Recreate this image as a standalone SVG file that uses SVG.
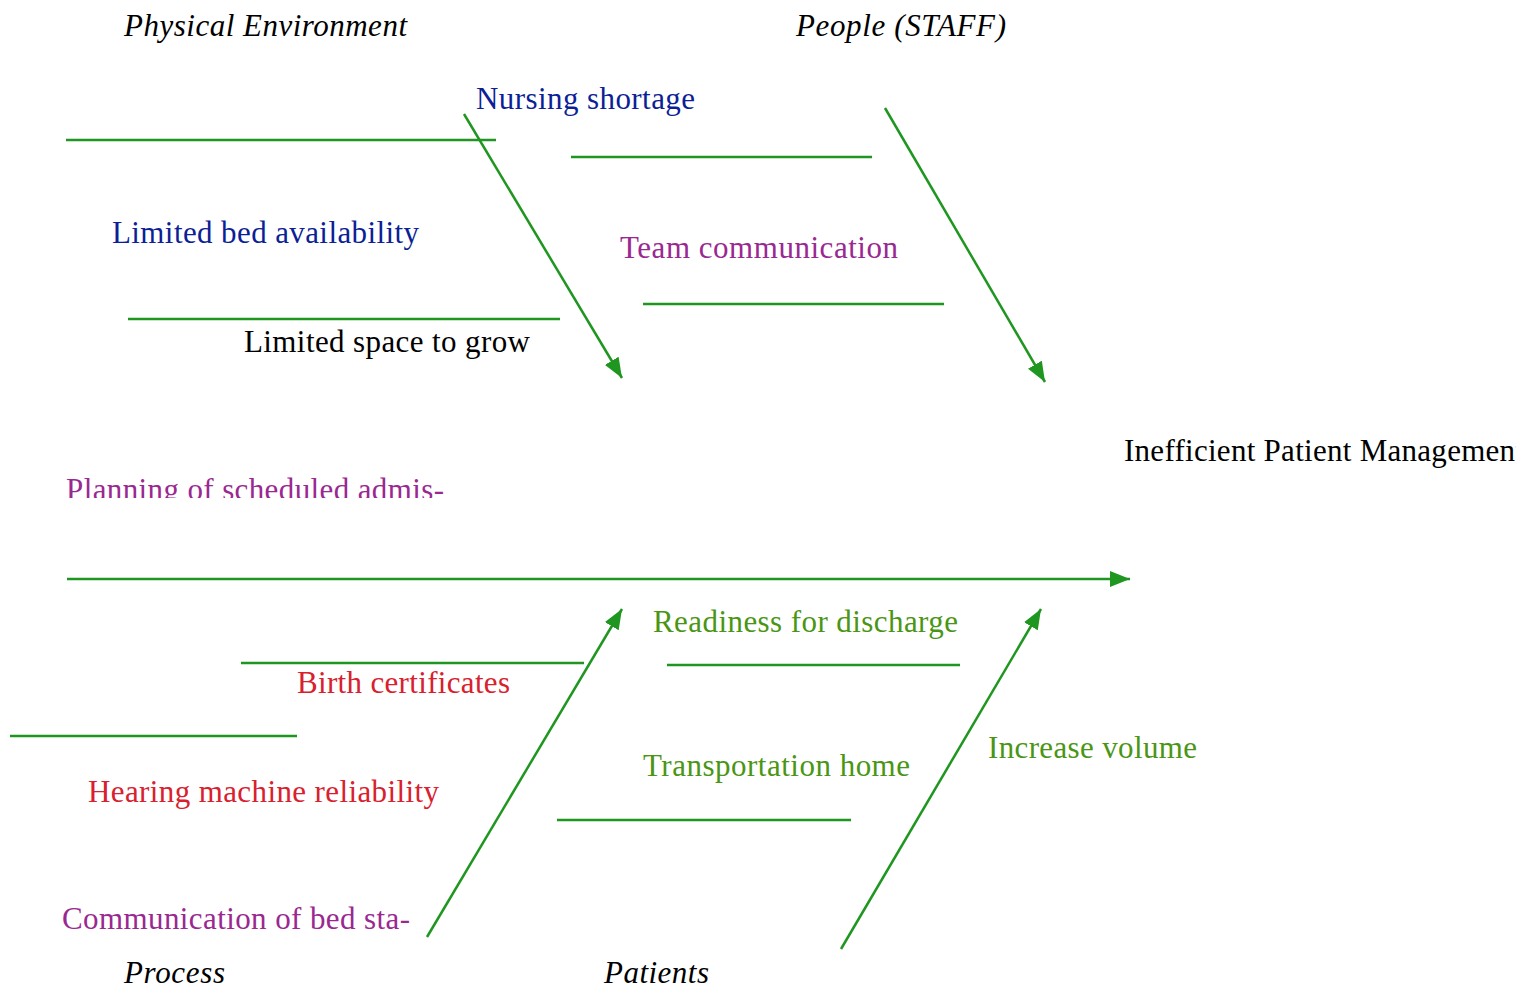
<svg xmlns="http://www.w3.org/2000/svg" width="1516" height="990" viewBox="0 0 1516 990">
<style>
text{font-family:"Liberation Serif","Times New Roman",serif;font-size:31px}
.it{font-style:italic;fill:#000}
.blk{fill:#000}
.blue{fill:#0d1f96}
.pur{fill:#9a2891}
.red{fill:#d8202e}
.grn{fill:#4a9614}
.ln{stroke:#1f961f;stroke-width:2.5;fill:none}
</style>
<defs>
<marker id="ah" markerWidth="8" markerHeight="6.4" refX="8" refY="3.2" orient="auto" markerUnits="strokeWidth">
<polygon points="0,0 8,3.2 0,6.4" fill="#1f961f"/>
</marker>
<clipPath id="cp"><rect x="0" y="460" width="600" height="38"/></clipPath>
</defs>
<rect width="1516" height="990" fill="#fff"/>
<g id="connectors">
<line class="ln" x1="66" y1="140" x2="496" y2="140"/>
<line class="ln" x1="571" y1="157" x2="872" y2="157"/>
<line class="ln" x1="643" y1="304" x2="944" y2="304"/>
<line class="ln" x1="128" y1="319" x2="560" y2="319"/>
<line class="ln" x1="241" y1="663" x2="584" y2="663"/>
<line class="ln" x1="667" y1="665" x2="960" y2="665"/>
<line class="ln" x1="10" y1="736" x2="297" y2="736"/>
<line class="ln" x1="557" y1="820" x2="851" y2="820"/>
<line class="ln" x1="464" y1="114" x2="622" y2="378" marker-end="url(#ah)"/>
<line class="ln" x1="885" y1="108" x2="1045" y2="382" marker-end="url(#ah)"/>
<line class="ln" x1="67" y1="579" x2="1130" y2="579" marker-end="url(#ah)"/>
<line class="ln" x1="427" y1="937" x2="622" y2="609" marker-end="url(#ah)"/>
<line class="ln" x1="841" y1="949" x2="1041" y2="609" marker-end="url(#ah)"/>
</g>
<g id="cat-physical"><text class="it" x="124" y="36" textLength="283">Physical Environment</text></g>
<g id="cat-people"><text class="it" x="796" y="36" textLength="210">People (STAFF)</text></g>
<g id="n-nursing"><text class="blue" x="476" y="109" textLength="219">Nursing shortage</text></g>
<g id="n-bed"><text class="blue" x="112" y="243" textLength="307">Limited bed availability</text></g>
<g id="n-team"><text class="pur" x="620" y="258" textLength="278">Team communication</text></g>
<g id="n-space"><text class="blk" x="244" y="352" textLength="286">Limited space to grow</text></g>
<g id="effect"><text class="blk" x="1124" y="461" textLength="400">Inefficient Patient Management</text></g>
<g id="n-planning"><text class="pur" x="66" y="500" textLength="378" clip-path="url(#cp)">Planning of scheduled admis-</text></g>
<g id="n-readiness"><text class="grn" x="653" y="632" textLength="305">Readiness for discharge</text></g>
<g id="n-birth"><text class="red" x="297" y="693" textLength="213">Birth certificates</text></g>
<g id="n-volume"><text class="grn" x="988" y="758" textLength="209">Increase volume</text></g>
<g id="n-transport"><text class="grn" x="643" y="776" textLength="267">Transportation home</text></g>
<g id="n-hearing"><text class="red" x="88" y="802" textLength="351">Hearing machine reliability</text></g>
<g id="n-commbed"><text class="pur" x="62" y="929" textLength="348">Communication of bed sta-</text></g>
<g id="cat-process"><text class="it" x="124" y="983" textLength="101">Process</text></g>
<g id="cat-patients"><text class="it" x="604" y="983" textLength="105">Patients</text></g>
</svg>
